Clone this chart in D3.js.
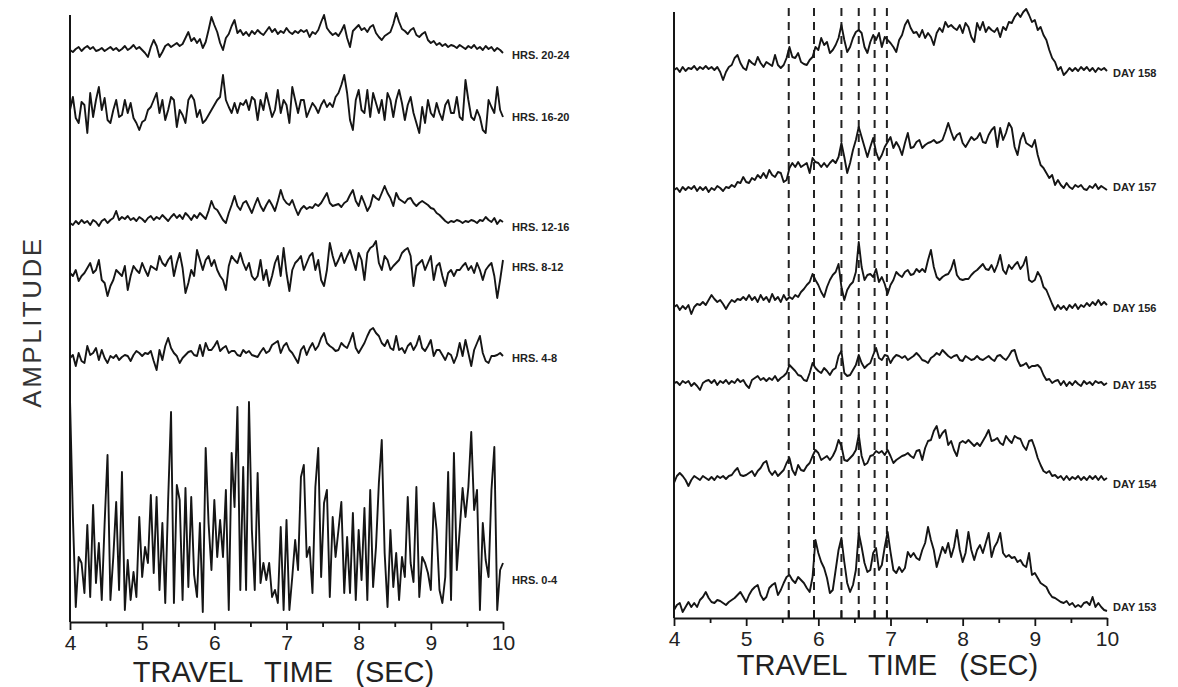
<!DOCTYPE html>
<html>
<head>
<meta charset="utf-8">
<script src="https://cdn.jsdelivr.net/npm/d3@7"></script>
<style>
  html, body { margin: 0; padding: 0; background: #fff; }
  svg { display: block; }
</style>
</head>
<body>
<svg id="chart" width="1178" height="687"></svg>
<script>
// ---------------- DATA ----------------
const timeStart = 4, timeEnd = 10, dt = 0.04;
const xTicks = [4, 5, 6, 7, 8, 9, 10];
const xMinorTicks = [4.5, 5.5, 6.5, 7.5, 8.5, 9.5];

const leftLabels = ["HRS. 20-24", "HRS. 16-20", "HRS. 12-16", "HRS. 8-12", "HRS. 4-8", "HRS. 0-4"];
const rightLabels = ["DAY 158", "DAY 157", "DAY 156", "DAY 155", "DAY 154", "DAY 153"];

// picked travel-time marks (dashed lines, right panel)
const pickTimes = [5.59, 5.94, 6.32, 6.56, 6.78, 6.95];

// amplitude traces (sampled every 0.04 s from 4 to 10 s)
const hrs20_24 = [0,-2,1,3,-1,2,4,1,3,-1, 0,2,-1,1,3,0,2,-1,1,4, 0,2,5,1,3,0,-3,-7,3,10, 4,-7,-2,4,6,3,5,7,4,6,
 12,18,9,12,7,11,2,8,20,33, 25,18,7,0,12,16,24,30,17,20, 15,18,14,19,16,20,17,15,19,23, 18,21,16,19,17,22,18,16,19,17,
 20,18,20,13,18,16,20,28,35,22, 18,15,17,14,19,25,12,3,19,22, 25,20,22,18,23,25,17,13,10,14, 16,18,26,37,28,21,19,16,20,22,
 15,13,16,18,10,7,9,5,7,4, 6,3,5,4,2,5,3,1,4,2, 5,1,3,0,4,1,3,-1,2,0, -3];
const hrs16_20 = [0,13,-8,-13,8,5,-23,17,-7,10, 23,0,12,-10,-13,0,10,-7,-5,10, -3,7,-8,-13,-20,-12,-10,0,3,10, 17,-3,10,-10,0,13,10,-17,0,-5,
 -13,10,15,10,-7,0,-13,-10,-5,0, 5,10,13,35,10,3,-3,7,-3,7, 5,10,0,13,10,-10,10,0,17,5, -7,0,20,-3,10,5,-13,23,10,-3,
 10,10,-7,0,7,3,-3,5,10,3, 7,3,13,17,25,35,17,-10,-20,10, 20,0,-3,20,-7,17,7,-3,10,-10, 17,10,-7,10,20,7,-10,5,13,-3,
 -13,-23,3,-13,10,-3,-7,7,-3,-10, 5,10,-3,-3,13,-7,-10,30,10,-7, -10,0,-7,-20,-23,10,3,-3,23,0, -7];
const hrs12_16 = [0,-2,2,-1,3,0,2,-2,3,1, -3,2,4,0,3,5,12,3,6,4, 7,3,5,2,6,4,1,5,7,3, 6,4,8,5,2,6,9,5,8,4,
 10,7,3,8,5,10,7,4,12,22, 15,13,8,3,0,10,18,27,17,13, 20,22,16,10,18,25,17,12,18,23, 18,12,22,33,24,20,18,23,15,8,
 14,17,14,16,15,19,17,20,25,30, 20,17,18,19,16,20,22,28,33,22, 17,27,20,12,17,28,25,23,30,37, 30,25,17,30,24,22,20,24,25,20,
 17,20,22,20,18,15,14,10,8,5, 2,0,2,1,3,2,0,2,1,3, 2,0,3,2,6,3,1,5,-1,3, 1];
const hrs8_12 = [0,-3,3,-8,-3,0,5,10,0,3, 13,-7,-10,-23,-13,-7,3,0,-3,7, -17,-3,7,3,0,10,3,-3,7,5, 3,17,10,7,13,17,-3,10,20,5,
 -20,-10,3,-3,23,13,3,13,17,7, 13,3,-3,-7,-17,7,17,13,10,20, 10,3,10,-3,-7,-3,13,-7,3,-13, -3,10,17,-3,25,0,-18,3,10,13,
 17,3,10,17,20,3,13,-7,-13,3, 30,17,7,13,20,10,17,23,13,3, 20,13,-7,20,25,27,32,10,3,17, 13,3,7,10,13,20,23,25,17,-13,
 7,10,13,3,10,17,-7,7,10,-3, -13,0,3,-3,3,3,7,10,3,7, 0,10,3,-7,3,7,10,-3,-25,-7, 13];
const hrs4_8 = [0,3,-8,5,-3,-5,12,3,5,10, -2,8,0,-5,2,0,3,-2,1,3, 2,-3,3,7,5,2,5,4,7,-3, -12,8,-2,12,20,10,5,2,-5,0,
 3,6,7,3,2,13,2,15,8,8, 12,17,7,10,12,5,7,7,3,2, 8,5,7,3,2,1,6,10,5,7, 13,15,17,5,12,15,8,5,0,-5,
 8,12,3,10,15,8,12,20,25,15, 12,10,7,8,15,12,10,17,25,10, 5,10,15,22,28,30,25,22,15,12, 18,10,8,22,8,10,5,12,15,8,
 13,22,10,7,12,18,2,8,8,3, -2,5,3,-5,2,15,2,18,5,-8, 8,15,22,5,-3,-5,2,2,3,5, 2];
const hrs0_4 = [190,73,-17,33,27,-3,65,-7,85,7, 47,-10,67,135,-10,33,88,0,118,-20, 30,-10,18,-7,73,13,43,27,95,17, 93,0,67,-13,90,178,-13,105,90,-10,
 102,3,93,15,-7,67,-22,142,67,20, 90,33,70,33,100,-20,137,83,183,0, 123,0,188,60,0,117,7,27,10,27, -7,0,-13,63,-20,70,-20,13,50,20,
 113,125,33,43,-3,103,142,13,87,100, -7,73,33,60,88,-3,53,-3,77,-10, 60,10,82,-10,100,3,43,107,150,37, -17,60,3,37,-10,33,13,93,27,8,
 103,-7,33,27,17,0,87,60,0,-13, 13,118,-10,137,20,60,102,73,103,158, 80,100,-20,67,30,13,100,143,-20,20, 27];

const day158 = [0,2,-2,3,-1,2,1,4,0,3, 1,4,1,3,0,3,-2,-10,-2,3, 5,12,15,7,2,0,10,7,5,13, 7,3,8,6,4,15,5,2,5,12,
 23,13,12,17,8,6,5,10,13,23, 20,32,25,28,17,20,25,32,45,30, 18,23,32,38,40,37,23,17,28,35, 30,37,23,33,30,27,23,18,30,35,
 45,50,42,37,38,33,40,32,37,33, 25,37,42,38,48,43,45,42,40,45, 37,47,43,33,28,47,40,48,38,43, 40,38,42,33,43,40,48,47,53,57,
 53,58,61,55,48,50,40,43,35,30, 20,12,8,0,3,-5,-2,2,-1,2, -1,3,0,3,-1,2,-2,2,0,2, -1];
const day157 = [0,2,-2,3,0,3,1,4,-1,3, 0,3,-2,2,0,4,2,-1,3,2, 5,3,8,7,13,8,7,12,10,15, 12,17,12,20,15,13,18,17,8,10,
 22,27,23,28,23,25,27,17,32,28, 27,23,27,23,27,30,27,33,47,33, 17,27,40,50,63,53,43,33,43,52, 38,30,35,43,48,53,42,48,43,35,
 47,57,42,43,48,50,42,45,47,48, 50,47,48,50,58,67,58,50,55,57, 47,43,48,53,50,52,57,48,47,55, 60,63,43,62,50,57,67,62,43,35,
 50,57,47,45,43,50,35,25,22,17, 12,15,5,10,5,2,7,3,1,5, 3,5,1,0,4,2,6,1,4,2, 0];
const day156 = [0,2,-3,1,-2,2,-7,0,3,2, 5,2,7,12,8,5,7,3,-2,3, 7,5,8,7,10,7,12,7,10,5, 12,7,10,5,13,7,10,5,12,7,
 10,8,12,10,15,18,22,25,33,27, 22,15,10,20,27,32,35,43,20,7, 17,22,25,35,65,40,27,32,33,30, 38,25,30,23,13,22,27,35,32,30,
 35,37,32,33,38,35,38,35,47,57, 40,30,27,30,32,33,38,47,32,28, 27,28,28,32,35,37,40,43,38,37, 42,35,42,52,37,33,42,38,42,45,
 38,42,50,27,25,27,35,30,20,17, 10,3,-3,2,-2,1,-3,2,-1,3, -2,2,0,4,1,5,2,7,2,5, 2];
const day155 = [0,1,-2,2,0,2,-3,0,-3,-7, 0,2,3,0,3,-2,2,0,3,-1, 2,0,4,1,3,-2,-5,3,5,7, 3,5,2,5,3,7,2,5,7,10,
 18,15,12,8,7,3,2,10,20,15, 12,10,15,12,8,13,15,27,32,10, 7,8,13,18,28,20,15,18,20,28, 35,25,23,28,27,20,25,28,27,25,
 27,23,25,27,30,27,23,22,20,25, 27,30,28,33,30,27,25,27,28,23, 22,27,25,23,24,27,24,23,25,27, 24,22,27,28,25,23,27,32,33,23,
 17,18,20,15,17,17,18,15,8,3, 4,0,2,3,-2,2,-3,1,-2,2, -1,-3,2,-1,1,-2,2,0,1,-2, 0];
const day154 = [-5,2,5,2,-2,-8,-2,2,0,-2, 2,0,-2,1,-2,2,0,2,-1,2, 3,7,10,3,2,3,5,7,2,7, 10,15,17,7,3,7,2,5,8,15,
 20,8,3,13,8,7,12,15,22,28, 25,18,20,22,18,22,28,38,32,18, 17,20,23,28,43,22,13,15,22,23, 27,25,27,23,28,22,15,18,20,22,
 23,25,22,20,27,28,18,30,37,38, 47,52,40,45,48,33,37,28,22,35, 37,35,38,35,32,35,32,37,42,48, 37,38,40,35,33,42,38,35,42,40,
 39,32,28,37,38,30,20,13,7,5, 7,2,3,0,2,-2,2,-2,1,-1, 2,-2,1,-2,2,-1,2,-2,2,-2, 0];
const day153 = [0,5,7,-2,3,8,3,7,3,10, 13,18,12,8,7,10,9,7,5,8, 10,12,15,18,13,8,15,20,23,25, 15,10,13,22,25,27,15,20,27,33,
 35,30,27,33,30,27,22,18,33,70, 57,48,42,32,17,20,40,60,72,48, 27,18,25,40,77,63,47,38,40,57, 62,40,45,63,78,58,40,37,43,38,
 42,58,53,57,52,50,60,67,83,70, 60,43,53,63,57,67,53,63,80,60, 48,57,78,60,50,60,65,57,67,77, 53,63,68,77,57,53,55,52,53,48,
 50,45,43,57,35,37,32,27,25,23, 17,13,12,10,8,7,9,5,7,3, 5,3,7,8,5,13,3,7,3,0, -1];

const leftSeries = [hrs20_24, hrs16_20, hrs12_16, hrs8_12, hrs4_8, hrs0_4];
const rightSeries = [day158, day157, day156, day155, day154, day153];
// vertical offset of each trace (amplitude units)
const leftOffsets = [572, 512, 399, 349, 264, 32];
const rightOffsets = [548, 428, 311, 235, 140, 8];

// ---------------- LAYOUT ----------------
const ink = "#151515";
const leftLabelDy = [-5, -7, -4, 6, 0, 10];
const rightLabelDy = [-3, 3, -1, -2, -6, 3];

const svg = d3.select("#chart");

function panel(cfg) {
  const g = svg.append("g");
  const x = d3.scaleLinear().domain([timeStart, timeEnd]).range([cfg.x0, cfg.x1]);
  const y = d3.scaleLinear().domain([0, cfg.ymax]).range([cfg.y0, cfg.y1]);

  // dashed pick lines
  if (cfg.picks) {
    g.selectAll("line.pick").data(cfg.picks).join("line")
      .attr("class", "pick")
      .attr("x1", d => x(d)).attr("x2", d => x(d))
      .attr("y1", y(cfg.ymax) - 4).attr("y2", y(0))
      .attr("stroke", "#222").attr("stroke-width", 2)
      .attr("stroke-dasharray", "8,6");
    g.selectAll("line.picktick").data(cfg.picks).join("line")
      .attr("class", "picktick")
      .attr("x1", d => x(d)).attr("x2", d => x(d))
      .attr("y1", y(0) - 7).attr("y2", y(0))
      .attr("stroke", ink).attr("stroke-width", 1.8);
  }

  // traces
  const line = d3.line()
    .x((d, i) => x(timeStart + i * dt))
    .y(d => d);
  cfg.series.forEach((s, k) => {
    const pts = s.map(v => y(cfg.offsets[k] + v));
    g.append("path")
      .attr("d", line(pts))
      .attr("fill", "none")
      .attr("stroke", ink)
      .attr("stroke-width", 1.9)
      .attr("stroke-linejoin", "round");
    g.append("text")
      .attr("x", x(timeEnd) + cfg.labelGap)
      .attr("y", y(cfg.offsets[k] + cfg.labelDy[k]))
      .attr("dominant-baseline", "central")
      .attr("font-family", "'Liberation Sans', Arial, sans-serif")
      .attr("font-weight", "bold")
      .attr("font-size", 11)
      .attr("fill", "#222")
      .text(cfg.labels[k]);
  });

  // vertical axis line
  g.append("line")
    .attr("x1", x(timeStart)).attr("x2", x(timeStart))
    .attr("y1", y(cfg.ymax)).attr("y2", y(0))
    .attr("stroke", ink).attr("stroke-width", 2);

  // x axis: minor ticks
  const minor = g.append("g").attr("transform", `translate(0,${y(0)})`)
    .call(d3.axisBottom(x).tickValues(xMinorTicks).tickSize(5).tickFormat(""));
  minor.select(".domain").remove();
  minor.selectAll("line").attr("stroke", ink).attr("stroke-width", 1.8);

  // x axis: major ticks + labels
  const major = g.append("g").attr("transform", `translate(0,${y(0)})`)
    .call(d3.axisBottom(x).tickValues(xTicks).tickSize(8).tickSizeOuter(0).tickPadding(5).tickFormat(d3.format("d")));
  major.select(".domain").attr("stroke", ink).attr("stroke-width", 2);
  major.selectAll("line").attr("stroke", ink).attr("stroke-width", 1.8);
  major.selectAll("text")
    .attr("font-family", "'Liberation Sans', Arial, sans-serif")
    .attr("font-size", 21)
    .attr("fill", "#222");

  // x axis title
  g.append("text")
    .attr("x", (cfg.x0 + cfg.x1) / 2 - 3)
    .attr("y", cfg.titleY)
    .attr("text-anchor", "middle")
    .attr("font-family", "'Liberation Sans', Arial, sans-serif")
    .attr("font-size", 29)
    .attr("word-spacing", 14)
    .attr("fill", "#222")
    .text("TRAVEL TIME (SEC)");
  return { x, y };
}

panel({ x0: 70, x1: 503, y0: 622, y1: 15, ymax: 607, series: leftSeries, offsets: leftOffsets,
        labels: leftLabels, labelDy: leftLabelDy, labelGap: 9, titleY: 682 });
panel({ x0: 674, x1: 1107, y0: 618, y1: 12, ymax: 606, series: rightSeries, offsets: rightOffsets,
        labels: rightLabels, labelDy: rightLabelDy, labelGap: 6, titleY: 675, picks: pickTimes });

// y axis title
svg.append("text")
  .attr("transform", "translate(41,322) rotate(-90)")
  .attr("text-anchor", "middle")
  .attr("font-family", "'Liberation Sans', Arial, sans-serif")
  .attr("font-size", 26)
  .attr("letter-spacing", 2.5)
  .attr("fill", "#333")
  .text("AMPLITUDE");
</script>
</body>
</html>
